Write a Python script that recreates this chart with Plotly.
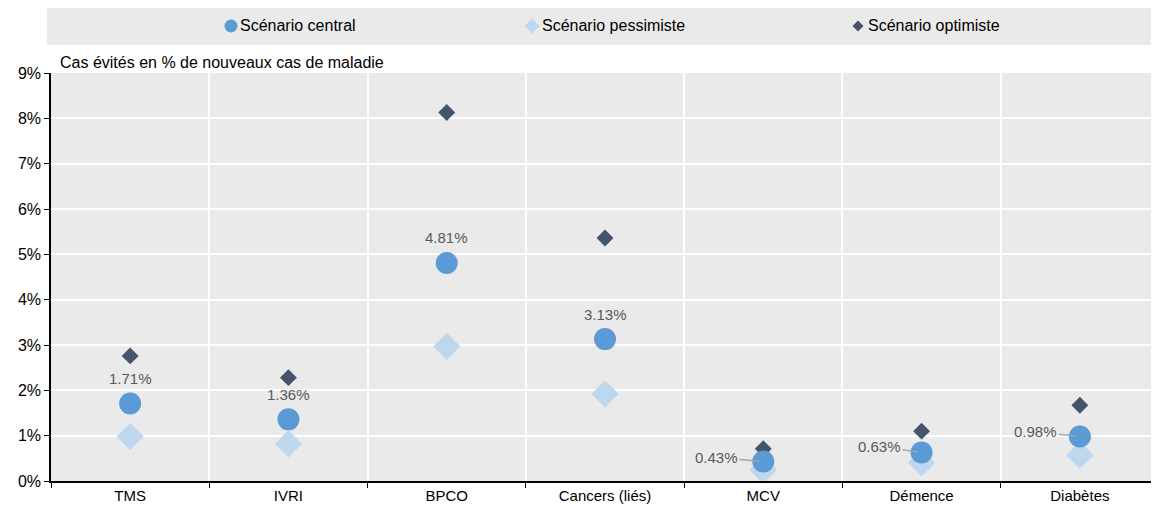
import plotly.graph_objects as go

CATEGORIES = ["TMS", "IVRI", "BPCO", "Cancers (liés)", "MCV", "Démence", "Diabètes"]
CENTRAL = [1.71, 1.36, 4.81, 3.13, 0.43, 0.63, 0.98]
PESSIMISTE = [0.98, 0.82, 2.97, 1.92, 0.24, 0.40, 0.57]
OPTIMISTE = [2.76, 2.28, 8.13, 5.36, 0.71, 1.10, 1.67]
LABELS = [f"{v:.2f}%" for v in CENTRAL]
Y_TICKS = [0, 1, 2, 3, 4, 5, 6, 7, 8, 9]
SERIES_NAMES = ["Scénario central", "Scénario pessimiste", "Scénario optimiste"]

FONT = "Liberation Sans, Arial, sans-serif"
BG = "#EAEAEA"
C_CENTRAL = "#5B9BD5"
C_PESS = "#BDD7EE"
C_OPT = "#44546A"

# page has an 8px body margin, so the figure is sized to fit the window
W, H = 1151, 499
M_L, M_R, M_T, M_B = 43, 0, 65, 26
PW, PH = W - M_L - M_R, H - M_T - M_B


def px_x(wx):
    """window pixel x -> paper x"""
    return (wx - 8 - M_L) / PW


def px_y(wy):
    """window pixel y -> paper y"""
    return (PH - (wy - 8 - M_T)) / PH


fig = go.Figure()
fig.add_trace(
    go.Scatter(
        x=CATEGORIES, y=OPTIMISTE, mode="markers", name=SERIES_NAMES[2],
        marker={"symbol": "diamond", "size": 13, "color": C_OPT},
    )
)
fig.add_trace(
    go.Scatter(
        x=CATEGORIES, y=PESSIMISTE, mode="markers", name=SERIES_NAMES[1],
        marker={"symbol": "diamond", "size": 21, "color": C_PESS},
    )
)
fig.add_trace(
    go.Scatter(
        x=CATEGORIES, y=CENTRAL, mode="markers", name=SERIES_NAMES[0],
        marker={"symbol": "circle", "size": 22, "color": C_CENTRAL},
    )
)

# data labels: above the point for the first four, to the left with a leader for the rest
label_offsets = {4: (-47, -4), 5: (-42, -6), 6: (-44, -5)}
for i, (cat, val, lab) in enumerate(zip(CATEGORIES, CENTRAL, LABELS)):
    font = {"size": 15, "color": "#595959", "family": FONT}
    if i < 4:
        fig.add_annotation(x=cat, y=val, text=lab, showarrow=False, yshift=25, font=font)
    else:
        ax, ay = label_offsets[i]
        fig.add_annotation(
            x=cat, y=val, text=lab, showarrow=True, arrowhead=0,
            arrowcolor="#A6A6A6", arrowwidth=1.5, ax=ax, ay=ay, standoff=4, font=font,
        )

fig.add_annotation(
    xref="paper", yref="paper", x=px_x(58), y=px_y(62), yanchor="middle", xanchor="left",
    text="Cas évités en % de nouveaux cas de maladie", showarrow=False,
    font={"size": 16, "color": "black", "family": FONT},
)

# grey legend band
fig.add_shape(
    type="rect", xref="paper", yref="paper",
    x0=px_x(47), x1=1.0, y0=px_y(45), y1=px_y(8),
    fillcolor=BG, line={"width": 0}, layer="below",
)

# legend drawn by hand so the swatch sits right next to its text
legend_y = px_y(26)
legend_items = [
    (px_x(231), px_x(238), "circle", 6.5, C_CENTRAL),
    (px_x(532), px_x(540), "diamond", 7.5, C_PESS),
    (px_x(858), px_x(866), "diamond", 5.5, C_OPT),
]
for (mx, tx, sym, r, col), name in zip(legend_items, SERIES_NAMES):
    if sym == "circle":
        fig.add_shape(
            type="circle", xref="paper", yref="paper",
            xsizemode="pixel", ysizemode="pixel", xanchor=mx, yanchor=legend_y,
            x0=-r, x1=r, y0=-r, y1=r, fillcolor=col, line={"width": 0},
        )
    else:
        fig.add_shape(
            type="path", xref="paper", yref="paper",
            xsizemode="pixel", ysizemode="pixel", xanchor=mx, yanchor=legend_y,
            path=f"M0,{r} L{r},0 L0,{-r} L{-r},0 Z", fillcolor=col, line={"width": 0},
        )
    fig.add_annotation(
        xref="paper", yref="paper", x=tx, y=legend_y, xanchor="left", yanchor="middle",
        text=name, showarrow=False, font={"size": 16, "color": "black", "family": FONT},
    )

fig.update_layout(
    width=W,
    height=H,
    margin={"l": M_L, "r": M_R, "t": M_T, "b": M_B},
    paper_bgcolor="white",
    plot_bgcolor=BG,
    font={"family": FONT, "size": 15, "color": "black"},
    showlegend=False,
)
fig.update_xaxes(
    type="category",
    tickson="boundaries",
    ticks="outside",
    ticklen=5,
    tickcolor="black",
    showline=True,
    linecolor="black",
    linewidth=1.5,
    showgrid=True,
    gridcolor="white",
    gridwidth=2,
    range=[-0.5, 6.5],
    tickfont={"size": 15},
)
fig.update_yaxes(
    range=[0, 9],
    tickvals=Y_TICKS,
    ticktext=[f"{v}%" for v in Y_TICKS],
    ticks="outside",
    ticklen=5,
    tickcolor="black",
    showline=True,
    linecolor="black",
    linewidth=1.5,
    showgrid=True,
    gridcolor="white",
    gridwidth=2,
    zeroline=False,
    tickfont={"size": 16},
)

fig.write_html("out.html")
